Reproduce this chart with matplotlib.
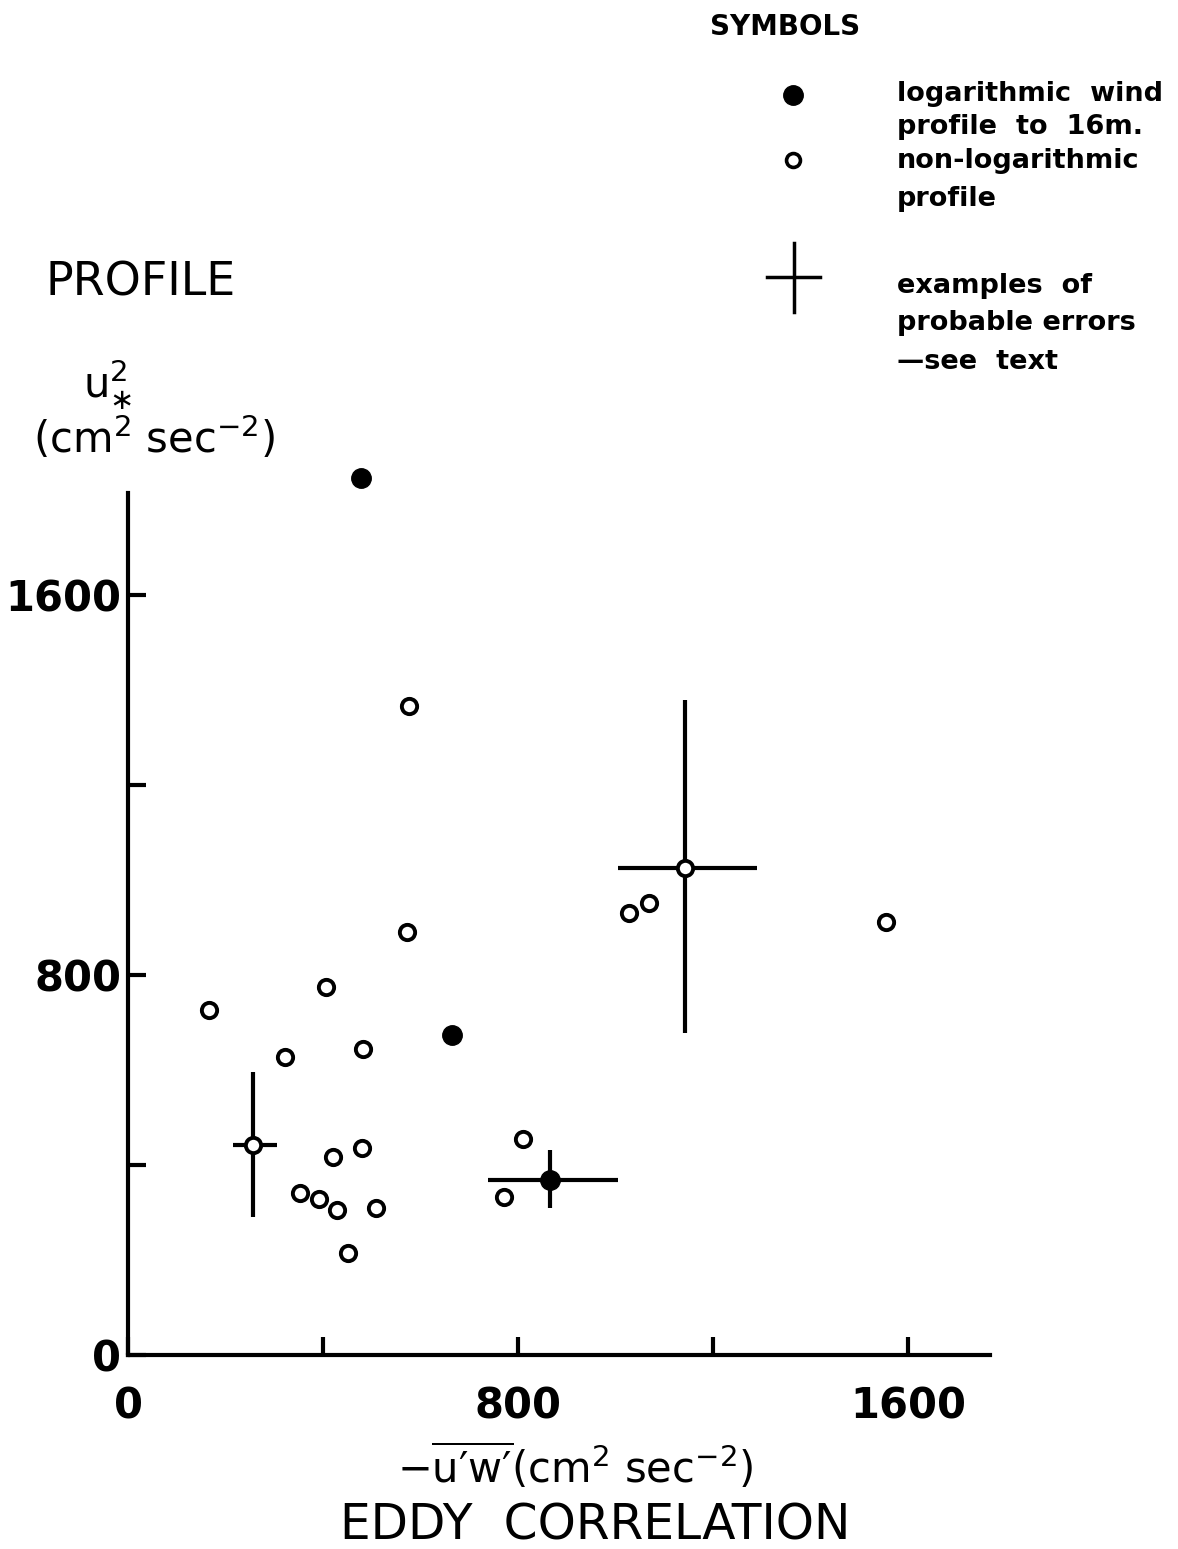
import matplotlib
matplotlib.use('Agg')
import matplotlib.pyplot as plt

plt.rcParams['font.family'] = ['DejaVu Sans']
plt.rcParams['mathtext.default'] = 'regular'

# ---------------- data ----------------
# logarithmic wind profile to 16 m (filled)
log_x = [478, 665, 866]
log_y = [1846, 674, 368]

# non-logarithmic profile (open)
nonlog_x = [576, 572, 406, 166, 322, 482, 256, 421, 480, 353, 392, 429, 509,
            451, 810, 771, 1028, 1069, 1143, 1555]
nonlog_y = [1366, 891, 775, 726, 627, 644, 442, 417, 436, 341, 328, 305, 309,
            215, 455, 333, 931, 952, 1025, 912]

# examples of probable errors
err_x = [256, 866, 1143]
err_y = [442, 368, 1025]
err_xlo = [41, 128, 138]
err_xhi = [50, 139, 147]
err_ylo = [151, 59, 347]
err_yhi = [154, 64, 354]

tick_vals = [0, 400, 800, 1200, 1600]
tick_labels = ['0', '', '800', '', '1600']

legend_labels = [
    ['logarithmic  wind', 'profile  to  16m.'],
    ['non-logarithmic', 'profile'],
    ['examples  of', 'probable errors', '\u2014see  text'],
]

# ---------------- figure ----------------
W, H = 1178, 1549
fig = plt.figure(figsize=(W / 100, H / 100), dpi=100)
fig.patch.set_facecolor('white')

ax = fig.add_axes([128 / W, 194 / H, 862 / W, 862 / H])
ax.set_xlim(0, 1768)
ax.set_ylim(0, 1815)
for s in ['top', 'right']:
    ax.spines[s].set_visible(False)
for s in ['left', 'bottom']:
    ax.spines[s].set_linewidth(3)

ax.set_xticks(tick_vals)
ax.set_xticklabels(tick_labels)
ax.set_yticks(tick_vals)
ax.set_yticklabels(tick_labels)
ax.tick_params(axis='both', direction='in', length=13, width=3, labelsize=30)
ax.tick_params(axis='x', pad=22)
ax.tick_params(axis='y', pad=5)
for lab in ax.get_xticklabels() + ax.get_yticklabels():
    lab.set_fontweight('bold')

# error bars
ax.errorbar(err_x, err_y, xerr=[err_xlo, err_xhi], yerr=[err_ylo, err_yhi],
            fmt='none', ecolor='black', elinewidth=3, capsize=0, zorder=2)

# points
ax.plot(nonlog_x, nonlog_y, 'o', ms=11, mfc='white', mec='black', mew=2.8,
        zorder=3, clip_on=False)
ax.plot(log_x, log_y, 'o', ms=14, color='black', zorder=3, clip_on=False)

# ---------------- overlay for annotations (pixel coords) ----------------
ov = fig.add_axes([0, 0, 1, 1], facecolor='none')
ov.set_xlim(0, W)
ov.set_ylim(H, 0)
ov.axis('off')

ov.text(710, 35, 'SYMBOLS', fontsize=20, fontweight='bold', ha='left', va='baseline')

# legend glyphs
ov.plot([793], [95], 'o', ms=14, color='black')
ov.plot([793], [160], 'o', ms=10, mfc='white', mec='black', mew=2.6)
ov.plot([767, 820], [277, 277], '-', color='black', lw=2.5)
ov.plot([794, 794], [243, 312], '-', color='black', lw=2.5)

legend_baselines = [[101, 134], [168, 206], [293, 330, 369]]
for lines, bases in zip(legend_labels, legend_baselines):
    for t, b in zip(lines, bases):
        ov.text(897, b, t, fontsize=19.5, fontweight='bold', ha='left', va='baseline')

# y-axis title
ov.text(45, 295, 'PROFILE', fontsize=33, ha='left', va='baseline')
ov.text(108, 397, r'$u_{\ast}^{2}$', fontsize=30, ha='center', va='baseline')
ov.text(154, 453, r'(cm$^{2}$ sec$^{-2}$)', fontsize=30, ha='center', va='baseline')

# x-axis title
ov.text(575, 1483, "$-\\overline{u\u2032w\u2032}$(cm$^{2}$ sec$^{-2}$)", fontsize=30,
        ha='center', va='baseline')
ov.text(595, 1540, 'EDDY  CORRELATION', fontsize=35, ha='center', va='baseline')

fig.savefig('out.png', dpi=100, facecolor='white')
